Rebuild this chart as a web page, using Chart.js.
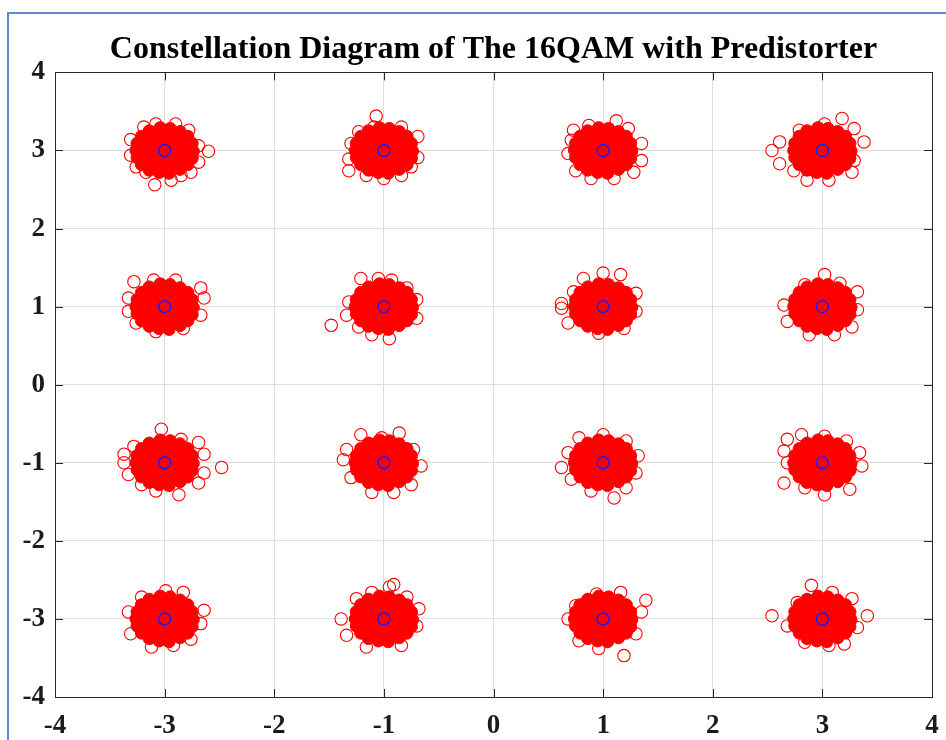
<!DOCTYPE html>
<html>
<head>
<meta charset="utf-8">
<script src="https://cdn.jsdelivr.net/npm/chart.js@4.4.1/dist/chart.umd.min.js"></script>
<style>
  body { margin: 0; background: #fff; }
  #wrap { position: relative; width: 946px; height: 740px; }
  #frame { position: absolute; left: 7px; top: 12px; right: 0; bottom: 0;
           border-left: 2px solid #5b8bd0; border-top: 2px solid #5b8bd0; pointer-events: none; }
</style>
</head>
<body>
<div id="wrap">
  <canvas id="qamChart" width="946" height="740"></canvas>
  <div id="frame"></div>
</div>
<script>
// ideal 16QAM symbols
const symbolI = [-3, -1, 1, 3, -3, -1, 1, 3, -3, -1, 1, 3, -3, -1, 1, 3];
const symbolQ = [3, 3, 3, 3, 1, 1, 1, 1, -1, -1, -1, -1, -3, -3, -3, -3];

// dense middle of every received cloud (offsets from the symbol)
const coreDI = [-0.26, -0.17, -0.09, 0.00, 0.09, 0.17, 0.26,
                -0.25, -0.16, -0.08, 0.01, 0.09, 0.17, 0.25,
                -0.25, -0.16, -0.08, 0.01, 0.09, 0.17, 0.25,
                -0.21, -0.12, -0.04, 0.04, 0.12, 0.21,
                -0.21, -0.12, -0.04, 0.04, 0.12, 0.21,
                -0.14, -0.05, 0.05, 0.14,
                -0.14, -0.05, 0.05, 0.14,
                -0.04, 0.05, -0.05, 0.04];
const coreDQ = [0.00, 0.01, -0.01, 0.00, 0.01, 0.00, -0.01,
                0.09, 0.10, 0.09, 0.08, 0.09, 0.10, 0.09,
                -0.09, -0.08, -0.10, -0.09, -0.08, -0.09, -0.10,
                0.18, 0.18, 0.19, 0.18, 0.17, 0.18,
                -0.18, -0.18, -0.17, -0.18, -0.19, -0.18,
                0.25, 0.26, 0.25, 0.24,
                -0.25, -0.26, -0.25, -0.24,
                0.29, 0.28, -0.28, -0.29];

// outer received samples of each cloud, same order as the symbols
const edgeDI = [
  [-0.31, -0.31, -0.08, 0.10, 0.22, 0.31, 0.31, 0.24, 0.06, -0.17, -0.26, -0.19, 0.40, -0.09, 0.15],
  [-0.07, -0.09, 0.16, -0.30, -0.32, -0.32, 0.31, 0.31, 0.25, 0.00, -0.16, 0.16, -0.23],
  [-0.27, -0.13, 0.12, 0.23, 0.35, 0.35, 0.28, 0.10, -0.11, -0.25, -0.32, -0.29],
  [-0.46, -0.39, -0.39, -0.21, 0.02, 0.18, 0.29, 0.38, 0.29, 0.27, 0.06, -0.14, -0.26],
  [-0.28, -0.33, -0.33, -0.26, -0.08, 0.17, 0.33, 0.36, 0.33, 0.10, -0.10],
  [-0.48, -0.21, -0.05, 0.07, 0.21, 0.30, 0.30, 0.05, -0.11, -0.32, -0.34, -0.23],
  [0.00, 0.16, -0.18, -0.27, -0.38, -0.38, -0.32, -0.04, 0.19, 0.30, 0.30],
  [0.02, -0.16, -0.35, -0.32, -0.12, 0.11, 0.27, 0.32, 0.32, 0.16],
  [0.52, -0.37, -0.37, -0.28, -0.03, 0.15, 0.31, 0.36, 0.36, 0.31, 0.13, -0.08, -0.21, -0.33],
  [-0.21, 0.14, -0.02, -0.34, -0.37, -0.30, -0.11, 0.09, 0.25, 0.34, 0.27],
  [-0.22, 0.00, 0.21, 0.32, 0.30, 0.21, 0.10, -0.11, -0.29, -0.38, -0.32],
  [-0.32, -0.19, 0.02, 0.22, 0.34, 0.36, 0.25, 0.02, -0.16, -0.35, -0.32, -0.35],
  [0.01, -0.21, -0.33, -0.31, -0.12, 0.08, 0.24, 0.36, 0.33, 0.17],
  [0.09, 0.05, -0.39, -0.34, -0.16, 0.16, 0.32, 0.30, -0.25, -0.11, 0.21],
  [0.39, 0.35, 0.19, -0.32, -0.25, -0.06, 0.16, 0.30, -0.04, -0.22],
  [-0.46, 0.41, -0.10, -0.23, -0.32, -0.16, 0.06, 0.20, 0.32, 0.27, 0.09]
];
const edgeDQ = [
  [0.14, -0.06, 0.34, 0.34, 0.26, 0.06, -0.15, -0.28, -0.38, -0.28, -0.21, 0.30, -0.01, -0.44, -0.32],
  [0.44, 0.30, 0.30, 0.09, -0.11, -0.26, 0.18, -0.09, -0.21, -0.36, -0.32, -0.32, 0.24],
  [0.26, 0.32, 0.38, 0.28, 0.09, -0.13, -0.28, -0.36, -0.36, -0.26, -0.04, 0.13],
  [0.00, 0.11, -0.17, 0.26, 0.34, 0.41, 0.28, 0.11, -0.13, -0.28, -0.38, -0.38, -0.26],
  [0.32, 0.11, -0.06, -0.21, -0.32, -0.28, -0.11, 0.11, 0.24, 0.34, 0.34],
  [-0.24, 0.36, 0.36, 0.34, 0.24, 0.09, -0.15, -0.41, -0.36, 0.06, -0.11, -0.26],
  [0.43, 0.41, 0.36, 0.19, 0.04, -0.02, -0.21, -0.34, -0.28, -0.06, 0.17],
  [0.41, 0.28, 0.02, -0.19, -0.36, -0.36, -0.26, -0.04, 0.19, 0.30],
  [-0.06, 0.11, 0.00, 0.21, 0.43, 0.30, 0.26, 0.11, -0.13, -0.26, -0.41, -0.36, -0.28, -0.15],
  [0.36, 0.38, 0.32, 0.17, 0.04, -0.19, -0.38, -0.38, -0.28, -0.04, 0.17],
  [0.32, 0.36, 0.28, 0.09, -0.13, -0.32, -0.45, -0.36, -0.21, -0.06, 0.13],
  [0.30, 0.36, 0.34, 0.28, 0.13, -0.04, -0.34, -0.41, -0.32, -0.26, 0.00, 0.15],
  [0.36, 0.28, 0.09, -0.19, -0.36, -0.34, -0.26, 0.11, -0.06, 0.34],
  [0.44, 0.41, 0.00, -0.21, -0.36, -0.34, 0.13, -0.09, 0.26, 0.34, 0.28],
  [0.24, 0.09, -0.47, 0.00, 0.17, 0.32, 0.34, -0.19, -0.38, -0.28],
  [0.04, 0.04, 0.43, 0.21, -0.09, -0.30, -0.34, -0.32, -0.11, 0.26, 0.34]
];

const tickValues = [-4, -3, -2, -1, 0, 1, 2, 3, 4];
const titleText = 'Constellation Diagram of The 16QAM with Predistorter';

const red = '#ff0000';
const blue = '#1a1aff';
const axisColor = '#1a1a1a';
const serif = "'Liberation Serif', 'Times New Roman', serif";

const symbols = symbolI.map((v, i) => ({ x: v, y: symbolQ[i] }));
const corePts = [];
const edgePts = [];
symbolI.forEach((sI, k) => {
  coreDI.forEach((d, j) => corePts.push({ x: sI + d, y: symbolQ[k] + coreDQ[j] }));
  edgeDI[k].forEach((d, j) => edgePts.push({ x: sI + d, y: symbolQ[k] + edgeDQ[k][j] }));
});

// MATLAB style box with inward ticks
const boxTicks = {
  id: 'boxTicks',
  afterDraw(chart) {
    const { ctx, chartArea: a, scales: { x, y } } = chart;
    ctx.save();
    ctx.strokeStyle = '#262626';
    ctx.lineWidth = 1;
    ctx.strokeRect(Math.round(a.left) + 0.5, Math.round(a.top) + 0.5,
                   Math.round(a.right - a.left), Math.round(a.bottom - a.top));
    ctx.beginPath();
    tickValues.forEach(v => {
      const px = Math.round(x.getPixelForValue(v)) + 0.5;
      const py = Math.round(y.getPixelForValue(v)) + 0.5;
      ctx.moveTo(px, a.bottom); ctx.lineTo(px, a.bottom - 8);
      ctx.moveTo(px, a.top); ctx.lineTo(px, a.top + 8);
      ctx.moveTo(a.left, py); ctx.lineTo(a.left + 8, py);
      ctx.moveTo(a.right, py); ctx.lineTo(a.right - 8, py);
    });
    ctx.stroke();
    ctx.restore();
  }
};

const tickFont = { family: serif, size: 27, weight: 'bold' };

new Chart(document.getElementById('qamChart'), {
  type: 'scatter',
  data: {
    datasets: [
      { label: 'symbols', data: symbols, order: 0, pointRadius: 6, pointBorderWidth: 1.4,
        pointBorderColor: blue, pointBackgroundColor: 'rgba(0,0,0,0)' },
      { label: 'received', data: edgePts, order: 1, pointRadius: 6.2, pointBorderWidth: 1.1,
        pointBorderColor: red, pointBackgroundColor: 'rgba(0,0,0,0)' },
      { label: 'received core', data: corePts, order: 2, pointRadius: 6.2, pointBorderWidth: 1,
        pointBorderColor: red, pointBackgroundColor: red }
    ]
  },
  options: {
    responsive: false,
    animation: false,
    events: [],
    layout: { padding: { left: 0, right: 14, top: 0, bottom: 0 } },
    plugins: {
      legend: { display: false },
      tooltip: { enabled: false },
      title: {
        display: true,
        fullSize: false,
        text: titleText,
        color: '#000',
        font: { family: serif, size: 32, weight: 'bold' },
        padding: { top: 31, bottom: 3 }
      }
    },
    scales: {
      x: {
        type: 'linear', min: -4, max: 4,
        afterFit(s) { s.height = 43; s.paddingLeft = 0; s.paddingRight = 0; },
        ticks: { stepSize: 1, color: axisColor, font: tickFont, padding: 13 },
        grid: { color: '#dedede', lineWidth: 1, drawTicks: false },
        border: { display: false }
      },
      y: {
        type: 'linear', min: -4, max: 4,
        afterFit(s) { s.width = 55; s.paddingTop = 0; s.paddingBottom = 0; },
        ticks: { stepSize: 1, color: axisColor, font: tickFont, padding: 10 },
        grid: { color: '#dedede', lineWidth: 1, drawTicks: false },
        border: { display: false }
      }
    }
  },
  plugins: [boxTicks]
});
</script>
</body>
</html>
